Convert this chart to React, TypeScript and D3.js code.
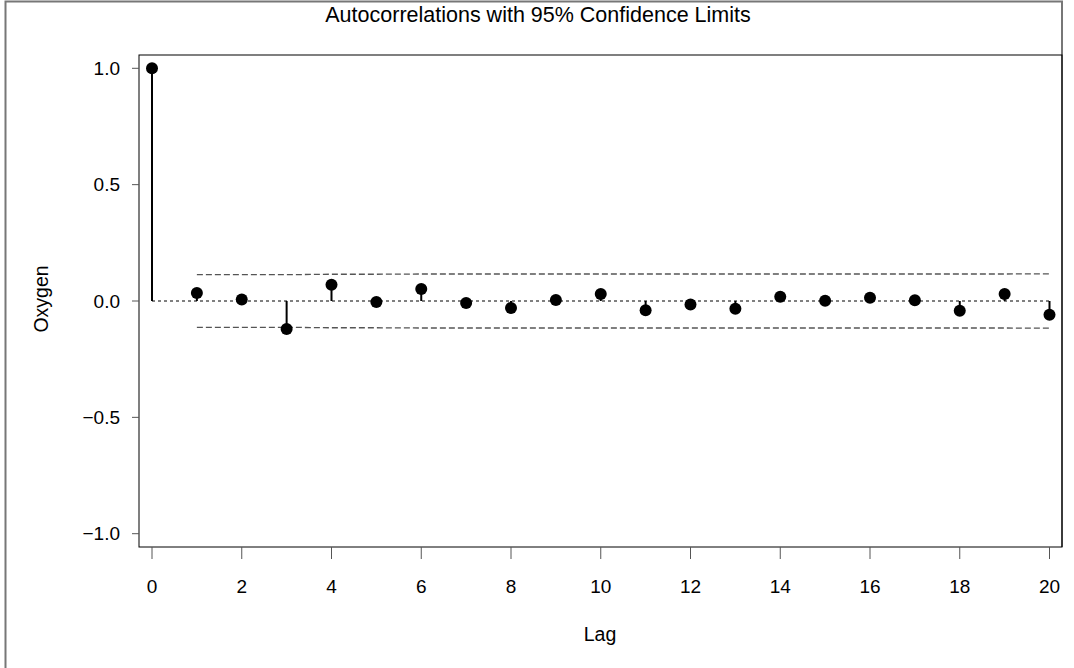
import React from "react";
import * as d3 from "d3";

const lags = [0, 1, 2, 3, 4, 5, 6, 7, 8, 9, 10, 11, 12, 13, 14, 15, 16, 17, 18, 19, 20];
const acf = [
  1.0, 0.034, 0.006, -0.12, 0.07, -0.004, 0.052, -0.009, -0.03, 0.004, 0.03,
  -0.04, -0.015, -0.033, 0.018, 0.001, 0.014, 0.003, -0.042, 0.03, -0.059,
];
// 95% limits, lags 1..20
const limitLags = [1, 2, 3, 4, 5, 6, 7, 8, 9, 10, 11, 12, 13, 14, 15, 16, 17, 18, 19, 20];
const upperLimit = [
  0.113, 0.113, 0.113, 0.115, 0.115, 0.116, 0.116, 0.116, 0.116, 0.116,
  0.116, 0.116, 0.116, 0.116, 0.116, 0.116, 0.116, 0.116, 0.116, 0.117,
];
const lowerLimit = upperLimit.map((v) => -v);
const xTicks = [0, 2, 4, 6, 8, 10, 12, 14, 16, 18, 20];
const yTicks = [-1.0, -0.5, 0.0, 0.5, 1.0];

const title = "Autocorrelations with 95% Confidence Limits";
const font = "'Liberation Sans', Arial, Helvetica, sans-serif";

export default function App() {
  const width = 1074;
  const height = 668;
  const frame = { left: 139, right: 1062, top: 55, bottom: 547 };

  const x = d3.scaleLinear().domain([0, 20]).range([152, 1049.5]);
  const y = d3.scaleLinear().domain([-1, 1]).range([533.7, 68.3]);

  const limitLine = d3
    .line<number>()
    .x((_, i) => x(limitLags[i]))
    .y((d) => y(d));

  const fmt = (v: number) => (v < 0 ? "\u2212" : "") + Math.abs(v).toFixed(1);

  return (
    <svg
      width={width}
      height={height}
      style={{ position: "absolute", left: 0, top: 0, background: "#fff" }}
      fontFamily={font}
    >
      {/* outer border */}
      <path d={`M5.5,${height} V1.5 H${frame.right} V${frame.bottom}`} fill="none" stroke="#777" strokeWidth={2} />

      <text x={538} y={22} textAnchor="middle" fontSize={21.5} fill="#000">
        {title}
      </text>

      {/* plot frame */}
      <rect
        x={frame.left}
        y={frame.top}
        width={frame.right - frame.left}
        height={frame.bottom - frame.top}
        fill="none"
        stroke="#000"
        strokeWidth={1}
      />

      {/* y axis */}
      {yTicks.map((t) => (
        <g key={t}>
          <line x1={132} x2={frame.left} y1={y(t)} y2={y(t)} stroke="#555" strokeWidth={1} />
          <text x={120} y={y(t)} dy="0.35em" textAnchor="end" fontSize={19} fill="#000">
            {fmt(t)}
          </text>
        </g>
      ))}
      <text
        transform={`translate(41,${y(0) - 2}) rotate(-90)`}
        textAnchor="middle"
        dy="0.35em"
        fontSize={19.5}
        fill="#000"
      >
        Oxygen
      </text>

      {/* x axis */}
      {xTicks.map((t) => (
        <g key={t}>
          <line x1={x(t)} x2={x(t)} y1={frame.bottom} y2={559} stroke="#555" strokeWidth={1} />
          <text x={x(t)} y={586} dy="0.35em" textAnchor="middle" fontSize={19} fill="#000">
            {t}
          </text>
        </g>
      ))}
      <text x={600} y={634} dy="0.35em" textAnchor="middle" fontSize={19.5} fill="#000">
        Lag
      </text>

      {/* zero reference */}
      <line x1={x(0)} x2={x(20)} y1={y(0)} y2={y(0)} stroke="#000" strokeWidth={1} strokeDasharray="3,3" />

      {/* confidence limits */}
      <path d={limitLine(upperLimit) ?? ""} fill="none" stroke="#555" strokeWidth={1.3} strokeDasharray="6,3" />
      <path d={limitLine(lowerLimit) ?? ""} fill="none" stroke="#555" strokeWidth={1.3} strokeDasharray="6,3" />

      {/* needles */}
      {lags.map((l, i) => (
        <g key={l}>
          <line x1={x(l)} x2={x(l)} y1={y(0)} y2={y(acf[i])} stroke="#000" strokeWidth={2} />
          <circle cx={x(l)} cy={y(acf[i])} r={6} fill="#000" />
        </g>
      ))}
    </svg>
  );
}
